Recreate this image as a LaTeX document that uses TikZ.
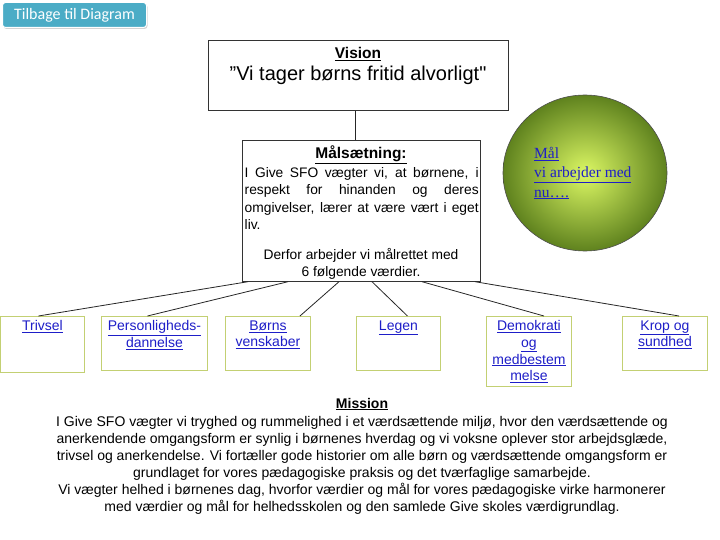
\documentclass[tikz,border=0pt]{standalone}
\usepackage{fontspec}
\setmainfont{Liberation Sans}
\newfontfamily\serifcirc{Liberation Serif}
\newfontfamily\btnfont{Carlito}
\usetikzlibrary{shadows}
\definecolor{btnfill}{RGB}{75,172,198}
\definecolor{linkblue}{RGB}{30,30,200}
\definecolor{valborder}{RGB}{195,208,115}
\definecolor{circin}{RGB}{220,248,100}
\definecolor{circout}{RGB}{95,130,30}
\tikzset{
  conn/.style={draw=black!85, line width=0.8pt},
  valbox/.style={draw=valborder, line width=0.9pt, fill=white, anchor=north west, inner sep=0pt},
  valtext/.style={text=linkblue, font=\fontsize{14}{16.7}\selectfont, align=center, anchor=north},
  bigbox/.style={draw=black!80, line width=0.7pt, fill=white, anchor=north west, inner sep=0pt},
}
\begin{document}
\begin{tikzpicture}[x=1pt,y=-1pt]
\useasboundingbox (0,0) rectangle (720,540);
% button
\node[fill=btnfill, draw=white, line width=1pt, rounded corners=3pt, drop shadow={opacity=0.35, shadow xshift=1pt, shadow yshift=-1.5pt},
  minimum width=144pt, minimum height=25pt, anchor=north west, inner sep=0pt, text=white,
  font=\btnfont\fontsize{16}{18}\selectfont] (btn) at (2,2) {Tilbage til Diagram};
% vision
\node[bigbox, minimum width=300pt, minimum height=70pt] (vision) at (208,40) {};
\node[font=\bfseries\fontsize{15.5}{18}\selectfont, anchor=base] (vtitle) at (358,58.5) {\underline{Vision}};
\node[font=\fontsize{20}{22}\selectfont, anchor=base] (vquote) at (358,81) {”Vi tager børns fritid alvorligt\textquotedbl};
% målsætning
\node[bigbox, minimum width=238pt, minimum height=141pt] (mal) at (242,140) {};
\draw[conn] ([xshift=-3pt]vision.south) -- ([xshift=-6pt]mal.north);
\node[font=\bfseries\fontsize{15.5}{18}\selectfont, anchor=base] (mtitle) at (361,159) {\underline{Målsætning:}};
\begin{scope}[every node/.style={font=\fontsize{13.8}{16}\selectfont, anchor=base west, inner sep=0pt}]
\node (m1) at (244.5,177.5) {\makebox[234pt][s]{I Give SFO vægter vi, at børnene, i}};
\node (m2) at (244.5,195) {\makebox[234pt][s]{respekt for hinanden og deres}};
\node (m3) at (244.5,212.5) {\makebox[234pt][s]{omgivelser, lærer at være vært i eget}};
\node (m4) at (244.5,229.5) {liv.};
\end{scope}
\node[font=\fontsize{13.8}{16}\selectfont, anchor=base] (m5) at (361,259.5) {Derfor arbejder vi målrettet med};
\node[font=\fontsize{13.8}{16}\selectfont, anchor=base] (m6) at (361,276.5) {6 følgende værdier.};
% circle
\shade[inner color=circin, outer color=circout, draw=black!70, line width=0.6pt] (585,173) ellipse [x radius=82, y radius=78];
\coordinate (circ) at (585,173);
\begin{scope}[every node/.style={font=\serifcirc\fontsize{15.5}{18}\selectfont, text=linkblue, anchor=base west, inner sep=0pt}]
\node (c1) at (534,159) {\underline{Mål}};
\node (c2) at (534,178) {\underline{vi arbejder med}};
\node (c3) at (534,197) {\underline{nu….}};
\end{scope}
% value boxes
\node[valbox, minimum width=84pt, minimum height=56pt] (trivsel) at (0,316) {};
\node[valbox, minimum width=106pt, minimum height=54pt] (person) at (101,316) {};
\node[valbox, minimum width=85pt, minimum height=54pt] (borns) at (225,316) {};
\node[valbox, minimum width=84pt, minimum height=54pt] (legen) at (356,316) {};
\node[valbox, minimum width=85pt, minimum height=70pt] (demo) at (486,316) {};
\node[valbox, minimum width=85pt, minimum height=54pt] (krop) at (622,316) {};
\node[valtext] at (trivsel.north) [yshift=-1pt] {\underline{Trivsel}};
\node[valtext] at (person.north) [yshift=-1pt] {\underline{Personligheds-}\\\underline{dannelse}};
\node[valtext] at (borns.north) [yshift=-1pt] {\underline{Børns}\\\underline{venskaber}};
\node[valtext] at (legen.north) [yshift=-1pt] {\underline{Legen}};
\node[valtext] at (demo.north) [yshift=-1pt] {\underline{Demokrati}\\\underline{og}\\\underline{medbestem}\\\underline{melse}};
\node[valtext] at (krop.north) [yshift=-1pt] {\underline{Krop og}\\\underline{sundhed}};
% connectors
\draw[conn] ([xshift=6pt]mal.south west) -- ([xshift=-4pt]trivsel.north);
\draw[conn] ([xshift=46pt]mal.south west) -- ([xshift=-7pt]person.north);
\draw[conn] ([xshift=97pt]mal.south west) -- ([xshift=32pt]borns.north);
\draw[conn] ([xshift=130pt]mal.south west) -- ([xshift=9pt]legen.north);
\draw[conn] ([xshift=180pt]mal.south west) -- ([xshift=15pt]demo.north);
\draw[conn] ([xshift=233pt]mal.south west) -- ([xshift=14pt]krop.north);
% mission
\node[font=\bfseries\fontsize{14}{16}\selectfont, anchor=base] (mis) at (362,408) {\underline{Mission}};
\begin{scope}[every node/.style={font=\fontsize{14}{16}\selectfont, anchor=base}]
\node (l1) at (362,426) {I Give SFO vægter vi tryghed og rummelighed i et værdsættende miljø, hvor den værdsættende og};
\node (l2) at (362,443) {anerkendende omgangsform er synlig i børnenes hverdag og vi voksne oplever stor arbejdsglæde,};
\node (l3) at (362,460) {trivsel og anerkendelse. Vi fortæller gode historier om alle børn og værdsættende omgangsform er};
\node (l4) at (362,477) {grundlaget for vores pædagogiske praksis og det tværfaglige samarbejde.};
\node (l5) at (362,494) {Vi vægter helhed i børnenes dag, hvorfor værdier og mål for vores pædagogiske virke harmonerer};
\node (l6) at (362,511) {med værdier og mål for helhedsskolen og den samlede Give skoles værdigrundlag.};
\end{scope}
\end{tikzpicture}
\end{document}
